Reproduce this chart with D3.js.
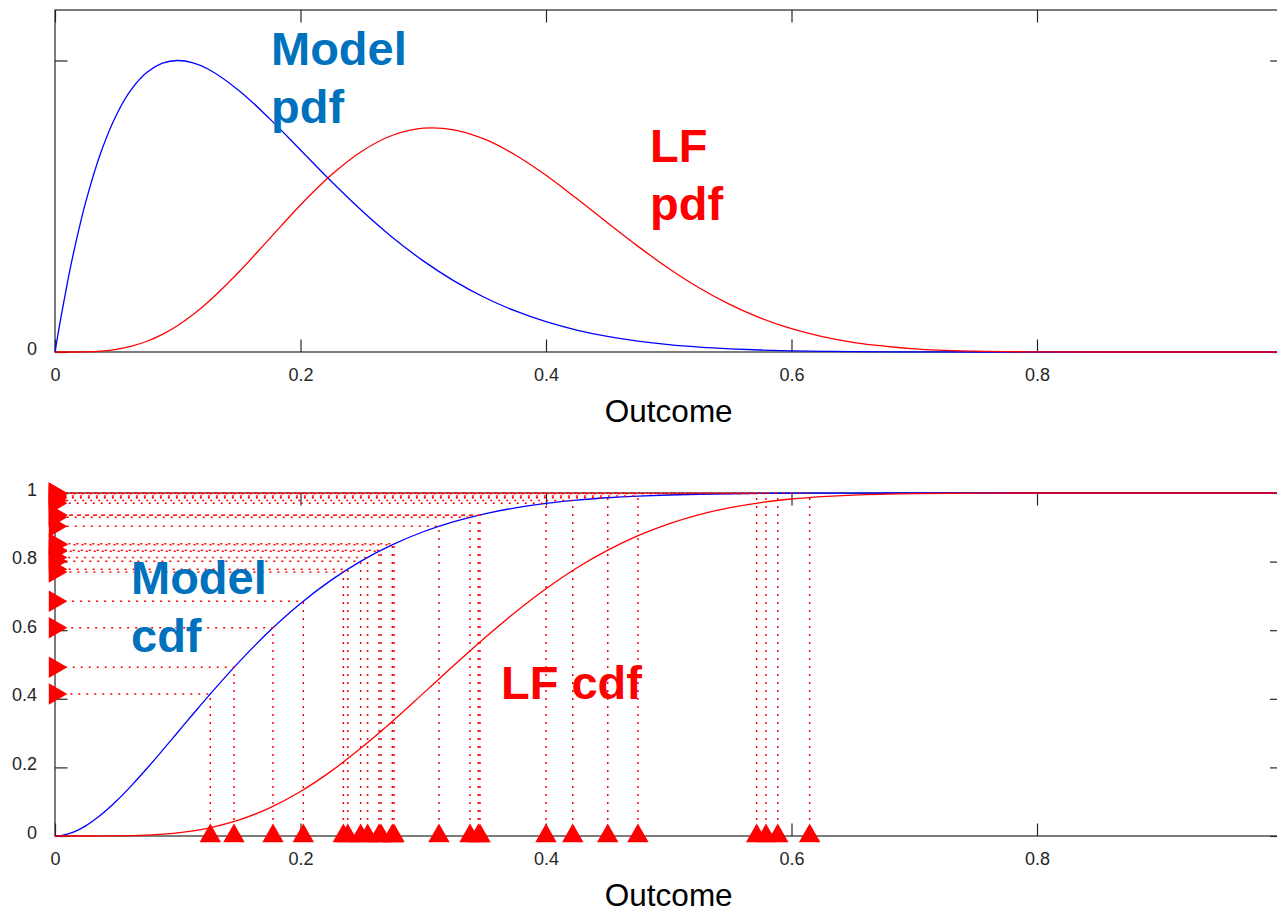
<!DOCTYPE html>
<html>
<head>
<meta charset="utf-8">
<script src="https://cdn.jsdelivr.net/npm/d3@7"></script>
<style>
  body { margin: 0; background: #fff; }
  text { font-family: "Liberation Sans", Arial, sans-serif; }
</style>
</head>
<body>
<svg id="chart" width="1277" height="912"></svg>
<script>
// outcome grid the curves are read at
const outcome = [0, 0.005, 0.01, 0.015, 0.025, 0.0375, 0.05, 0.0625, 0.075, 0.0875, 0.1, 0.1125, 0.125,
  0.15, 0.175, 0.2, 0.225, 0.25, 0.275, 0.3, 0.325, 0.35, 0.375, 0.4, 0.425, 0.45, 0.475, 0.5,
  0.525, 0.55, 0.575, 0.6, 0.625, 0.65, 0.7, 0.75, 0.8, 0.9, 1]

const modelPdf = [0, 0.526, 1.005, 1.44, 2.19, 2.924, 3.466, 3.846, 4.09, 4.222, 4.262, 4.227, 4.134,
  3.821, 3.408, 2.953, 2.496, 2.065, 1.674, 1.332, 1.04, 0.797, 0.6, 0.443, 0.321, 0.228, 0.158, 0.107,
  0.071, 0.046, 0.029, 0.017, 0.01, 0.006, 0.002, 0.0003, 0, 0, 0]

const lfPdf = [0, 0, 0, 0, 0.003, 0.014, 0.039, 0.086, 0.157, 0.257, 0.388, 0.548, 0.735,
  1.174, 1.662, 2.15, 2.587, 2.936, 3.169, 3.272, 3.249, 3.111, 2.88, 2.583, 2.243, 1.89, 1.544, 1.222,
  0.936, 0.693, 0.495, 0.34, 0.224, 0.141, 0.047, 0.012, 0.002, 0, 0]

const modelCdf = [0, 0.0013, 0.0052, 0.0113, 0.0296, 0.0618, 0.1019, 0.1477, 0.1974, 0.2495, 0.3026, 0.3557, 0.408,
  0.5078, 0.5984, 0.6779, 0.746, 0.8029, 0.8495, 0.887, 0.9165, 0.9394, 0.9568, 0.9698, 0.9793, 0.9861, 0.9909, 0.9941,
  0.9963, 0.9978, 0.9987, 0.9993, 0.9996, 0.9998, 1, 1, 1, 1, 1]

const lfCdf = [0, 0, 0, 0, 0, 0.0001, 0.0004, 0.0012, 0.0027, 0.0053, 0.0092, 0.015, 0.0228,
  0.0468, 0.0822, 0.1298, 0.1891, 0.2585, 0.3345, 0.4158, 0.4976, 0.5773, 0.6523, 0.7207, 0.7814, 0.8327, 0.8756, 0.9102,
  0.9371, 0.9573, 0.9722, 0.9825, 0.9895, 0.994, 0.9983, 0.9997, 1, 1, 1]

// sampled outcomes (triangles on x axis) and their model cdf values (triangles on y axis)
const samples = [0.1265, 0.1458, 0.1776, 0.2023, 0.2349, 0.2385, 0.249, 0.2547, 0.264, 0.2656, 0.2748, 0.2762,
  0.3128, 0.3381, 0.3449, 0.3462, 0.4, 0.4218, 0.4503, 0.4749, 0.5716, 0.5792, 0.5888, 0.6148]
const sampleCdf = [0.414, 0.492, 0.607, 0.6845, 0.77, 0.778, 0.801, 0.812, 0.83, 0.833, 0.849, 0.852,
  0.903, 0.929, 0.935, 0.936, 0.97, 0.978, 0.986, 0.991, 0.9986, 0.9988, 0.9991, 0.9995]

const xTicks = [0, 0.2, 0.4, 0.6, 0.8, 1]
const xTickLabels = ['0', '0.2', '0.4', '0.6', '0.8', '1']
const pdfTicks = [0, 4.262]
const pdfTickLabels = ['0', '']
const cdfTicks = [0, 0.2, 0.4, 0.6, 0.8, 1]
const cdfTickLabels = ['0', '0.2', '0.4', '0.6', '0.8', '1']

const axisColor = '#262626'
const modelText = '#0072BD'

const svg = d3.select('#chart')

const x = d3.scaleLinear().domain([0, 1]).range([55, 1282.5])
const yPdf = d3.scaleLinear().domain([0, 5]).range([352, 10])
const yCdf = d3.scaleLinear().domain([0, 1]).range([836, 493])

function drawFrame(y, yTicks, yLabels) {
  const g = svg.append('g')
  const [y0, y1] = y.range()
  const [x0, x1] = x.range()

  const styleAxis = sel => {
    sel.select('.domain').remove()
    sel.selectAll('line').attr('stroke', axisColor).attr('stroke-width', 1.2)
    sel.selectAll('text').attr('fill', axisColor).style('font-size', '18px')
  }

  g.append('g')
    .attr('transform', `translate(0,${y0})`)
    .call(d3.axisBottom(x).tickValues(xTicks).tickSizeInner(-12.5).tickSizeOuter(0)
      .tickPadding(16).tickFormat((d, i) => xTickLabels[i]))
    .call(styleAxis)
  g.append('g')
    .attr('transform', `translate(0,${y1})`)
    .call(d3.axisTop(x).tickValues(xTicks).tickSizeInner(-12.5).tickSizeOuter(0).tickFormat(''))
    .call(styleAxis)
  g.append('g')
    .attr('transform', `translate(${x0},0)`)
    .call(d3.axisLeft(y).tickValues(yTicks).tickSizeInner(-12.5).tickSizeOuter(0)
      .tickPadding(18).tickFormat((d, i) => yLabels[i]))
    .call(styleAxis)
    .call(sel => sel.selectAll('text').attr('dy', '0.12em'))
  g.append('g')
    .attr('transform', `translate(${x1},0)`)
    .call(d3.axisRight(y).tickValues(yTicks).tickSizeInner(-12.5).tickSizeOuter(0).tickFormat(''))
    .call(styleAxis)

  g.append('rect')
    .attr('x', x0).attr('y', y1)
    .attr('width', x1 - x0).attr('height', y0 - y1)
    .attr('fill', 'none')
    .attr('stroke', axisColor)
    .attr('stroke-width', 1.2)

  g.append('text')
    .attr('x', (x0 + x1) / 2)
    .attr('y', y0 + 70)
    .attr('text-anchor', 'middle')
    .attr('fill', '#000')
    .style('font-size', '31.5px')
    .text('Outcome')
}

function drawCurve(y, values, color) {
  const line = d3.line()
    .x((d, i) => x(outcome[i]))
    .y(d => y(d))
    .curve(d3.curveCatmullRom.alpha(0.5))
  svg.append('path')
    .datum(values)
    .attr('d', line)
    .attr('fill', 'none')
    .attr('stroke', color)
    .attr('stroke-width', 1.3)
}

function label(lines, px, py, color) {
  const t = svg.append('text')
    .attr('x', px).attr('y', py)
    .attr('fill', color)
    .style('font-size', '47px')
    .style('font-weight', 'bold')
  lines.forEach((s, i) => {
    t.append('tspan').attr('x', px).attr('dy', i === 0 ? 0 : 58).text(s)
  })
}

// top panel: pdfs
drawFrame(yPdf, pdfTicks, pdfTickLabels)
drawCurve(yPdf, modelPdf, '#0000ff')
drawCurve(yPdf, lfPdf, '#ff0000')

// bottom panel: cdfs
drawFrame(yCdf, cdfTicks, cdfTickLabels)
drawCurve(yCdf, modelCdf, '#0000ff')
drawCurve(yCdf, lfCdf, '#ff0000')

// dotted guides from each sample up to the model cdf and across to the y axis
const guides = svg.append('g')
  .attr('fill', 'none')
  .attr('stroke', '#ff0000')
  .attr('stroke-width', 1.5)
  .attr('stroke-dasharray', '2,6')
samples.forEach((s, i) => {
  guides.append('path')
    .attr('d', `M${x(s)},${yCdf(0)}V${yCdf(sampleCdf[i])}H${x(0)}`)
})

const tri = d3.symbol().type(d3.symbolTriangle).size(200)
svg.append('g').selectAll('path.xmark')
  .data(samples)
  .join('path')
  .attr('class', 'xmark')
  .attr('d', tri)
  .attr('fill', '#ff0000')
  .attr('transform', d => `translate(${x(d)},${yCdf(0)})`)
svg.append('g').selectAll('path.ymark')
  .data(sampleCdf)
  .join('path')
  .attr('class', 'ymark')
  .attr('d', tri)
  .attr('fill', '#ff0000')
  .attr('transform', d => `translate(${x(0)},${yCdf(d)}) rotate(90)`)

label(['Model', 'pdf'], 271, 65, modelText)
label(['LF', 'pdf'], 650, 162, '#ff0000')
label(['Model', 'cdf'], 131, 594, modelText)
label(['LF cdf'], 501, 699, '#ff0000')
</script>
</body>
</html>
